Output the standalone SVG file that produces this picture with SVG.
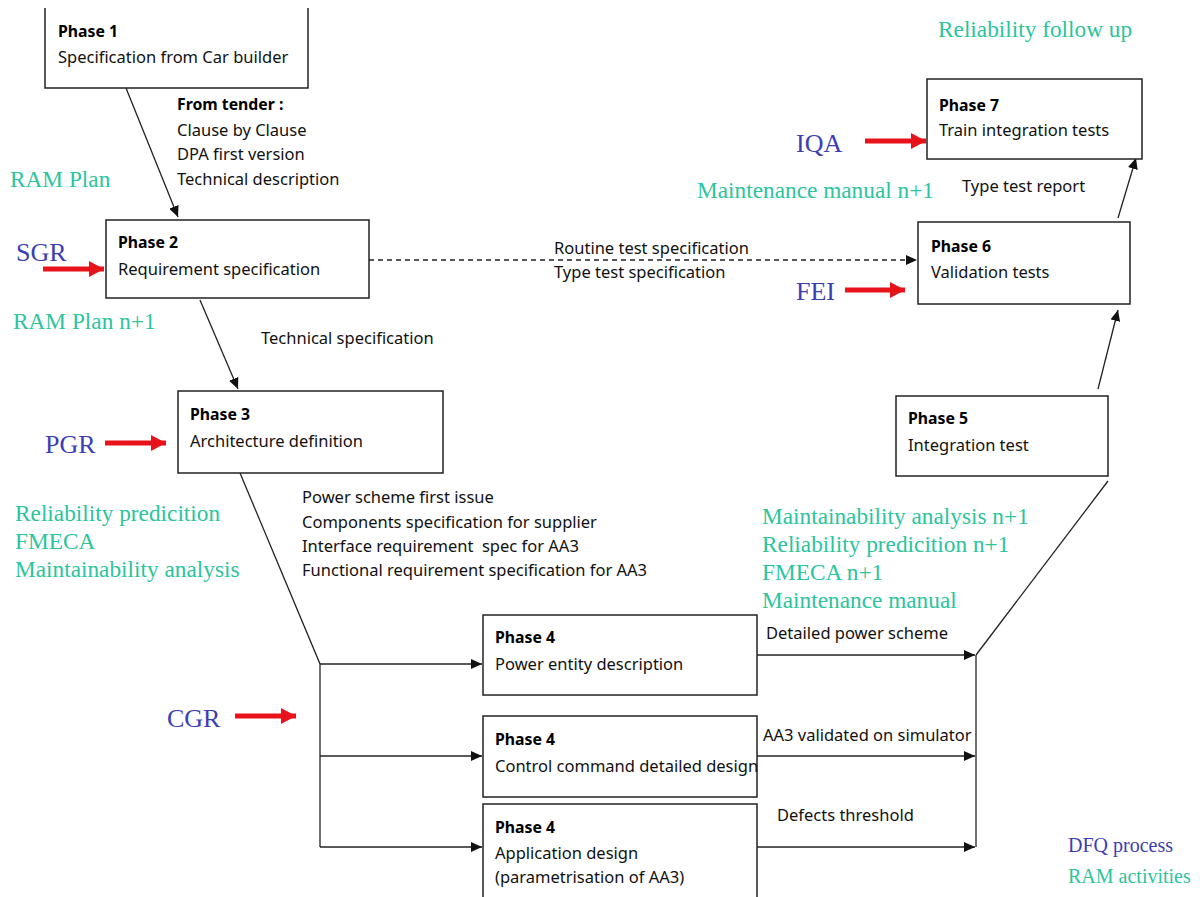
<svg xmlns="http://www.w3.org/2000/svg" width="1203" height="897" viewBox="0 0 1203 897">
<style>
.box{fill:#fff;stroke:#222;stroke-width:1.5}
.t{font-family:"Noto Sans","Open Sans",sans-serif;font-size:16.5px;fill:#111}
.b{font-family:"Noto Sans","Open Sans",sans-serif;font-size:15.8px;font-weight:bold;fill:#000}
.g{font-family:"Liberation Serif","Times New Roman",serif;font-size:23.3px;fill:#2cc49c}
.u{font-family:"Liberation Serif","Times New Roman",serif;font-size:26px;fill:#3d3db5}
.c{fill:none;stroke:#222;stroke-width:1.3}
.r{stroke:#e8121a;stroke-width:5;fill:none}
</style>
<defs>
<marker id="ah" markerUnits="userSpaceOnUse" markerWidth="12" markerHeight="10" refX="11" refY="5" orient="auto">
<path d="M0,0 L11,5 L0,10 z" fill="#111"/>
</marker>
<marker id="rh" markerUnits="userSpaceOnUse" markerWidth="16" markerHeight="16" refX="15" refY="8" orient="auto">
<path d="M0,0 L15,8 L0,16 z" fill="#e8121a"/>
</marker>
</defs>

<g id="connectors">
<line class="c" x1="126" y1="88" x2="178" y2="217" marker-end="url(#ah)"/>
<line class="c" x1="200" y1="300" x2="238" y2="389" marker-end="url(#ah)"/>
<line class="c" x1="369" y1="260" x2="917" y2="260" stroke-dasharray="5,4" marker-end="url(#ah)"/>
<polyline class="c" points="240,473 320,664 320,847"/>
<line class="c" x1="320" y1="664" x2="482" y2="664" marker-end="url(#ah)"/>
<line class="c" x1="320" y1="756" x2="482" y2="756" marker-end="url(#ah)"/>
<line class="c" x1="320" y1="847" x2="482" y2="847" marker-end="url(#ah)"/>
<line class="c" x1="757" y1="655" x2="975" y2="655" marker-end="url(#ah)"/>
<line class="c" x1="757" y1="756" x2="975" y2="756" marker-end="url(#ah)"/>
<line class="c" x1="757" y1="847" x2="975" y2="847" marker-end="url(#ah)"/>
<line class="c" x1="976" y1="655" x2="976" y2="847"/>
<line class="c" x1="976" y1="655" x2="1108" y2="481"/>
<line class="c" x1="1098" y1="389" x2="1118" y2="310" marker-end="url(#ah)"/>
<line class="c" x1="1118" y1="218" x2="1136" y2="158" marker-end="url(#ah)"/>
<line class="r" x1="43" y1="269" x2="104" y2="269" marker-end="url(#rh)"/>
<line class="r" x1="105" y1="443" x2="166" y2="443" marker-end="url(#rh)"/>
<line class="r" x1="235" y1="716" x2="296" y2="716" marker-end="url(#rh)"/>
<line class="r" x1="865" y1="141" x2="926" y2="141" marker-end="url(#rh)"/>
<line class="r" x1="845" y1="290" x2="905" y2="290" marker-end="url(#rh)"/>
</g>

<g id="phase1">
<path class="box" d="M45,8 V88 H308 V8" fill="#fff"/>
<text class="b" x="58" y="37">Phase 1</text>
<text class="t" x="58" y="63">Specification from Car builder</text>
</g>
<g id="phase2">
<rect class="box" x="106" y="220" width="263" height="78"/>
<text class="b" x="118" y="248">Phase 2</text>
<text class="t" x="118" y="275">Requirement specification</text>
</g>
<g id="phase3">
<rect class="box" x="178" y="391" width="265" height="82"/>
<text class="b" x="190" y="420">Phase 3</text>
<text class="t" x="190" y="447">Architecture definition</text>
</g>
<g id="phase4a">
<rect class="box" x="483" y="615" width="274" height="80"/>
<text class="b" x="495" y="643">Phase 4</text>
<text class="t" x="495" y="670">Power entity description</text>
</g>
<g id="phase4b">
<rect class="box" x="483" y="716" width="274" height="81"/>
<text class="b" x="495" y="745">Phase 4</text>
<text class="t" x="495" y="772">Control command detailed design</text>
</g>
<g id="phase4c">
<rect class="box" x="483" y="804" width="274" height="110"/>
<text class="b" x="495" y="833">Phase 4</text>
<text class="t" x="495" y="859">Application design</text>
<text class="t" x="495" y="883">(parametrisation of AA3)</text>
</g>
<g id="phase5">
<rect class="box" x="896" y="396" width="212" height="80"/>
<text class="b" x="908" y="424">Phase 5</text>
<text class="t" x="908" y="451">Integration test</text>
</g>
<g id="phase6">
<rect class="box" x="918" y="222" width="212" height="82"/>
<text class="b" x="931" y="252">Phase 6</text>
<text class="t" x="931" y="278">Validation tests</text>
</g>
<g id="phase7">
<rect class="box" x="927" y="79" width="215" height="80"/>
<text class="b" x="939" y="111">Phase 7</text>
<text class="t" x="939" y="136">Train integration tests</text>
</g>

<g id="labels">
<text class="b" x="177" y="110">From tender :</text>
<text class="t" x="177" y="136">Clause by Clause</text>
<text class="t" x="177" y="160">DPA first version</text>
<text class="t" x="177" y="185">Technical description</text>
<text class="t" x="261" y="344">Technical specification</text>
<text class="t" x="554" y="254">Routine test specification</text>
<text class="t" x="554" y="278">Type test specification</text>
<text class="t" x="962" y="192">Type test report</text>
<text class="t" x="302" y="503">Power scheme first issue</text>
<text class="t" x="302" y="528">Components specification for supplier</text>
<text class="t" x="302" y="552" style="white-space:pre">Interface requirement  spec for AA3</text>
<text class="t" x="302" y="576">Functional requirement specification for AA3</text>
<text class="t" x="766" y="639">Detailed power scheme</text>
<text class="t" x="763" y="741">AA3 validated on simulator</text>
<text class="t" x="777" y="821">Defects threshold</text>
</g>

<g id="ram">
<text class="g" x="938" y="37">Reliability follow up</text>
<text class="g" x="10" y="187">RAM Plan</text>
<text class="g" x="13" y="329">RAM Plan n+1</text>
<text class="g" x="697" y="198">Maintenance manual n+1</text>
<text class="g" x="15" y="521">Reliability predicition</text>
<text class="g" x="15" y="549">FMECA</text>
<text class="g" x="15" y="577">Maintainability analysis</text>
<text class="g" x="762" y="524">Maintainability analysis n+1</text>
<text class="g" x="762" y="552">Reliability predicition n+1</text>
<text class="g" x="762" y="580">FMECA n+1</text>
<text class="g" x="762" y="608">Maintenance manual</text>
<text class="g" x="1068" y="883" style="font-size:20px">RAM activities</text>
</g>
<g id="dfq">
<text class="u" x="16" y="261">SGR</text>
<text class="u" x="45" y="453">PGR</text>
<text class="u" x="167" y="727">CGR</text>
<text class="u" x="796" y="152">IQA</text>
<text class="u" x="796" y="300">FEI</text>
<text class="u" x="1068" y="852" style="font-size:20px">DFQ process</text>
</g>
</svg>
